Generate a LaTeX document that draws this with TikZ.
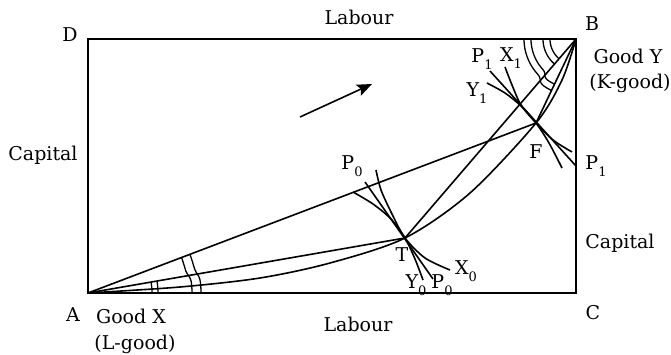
\documentclass[tikz,border=0pt]{standalone}
\usepackage{fontspec}
\setmainfont{DejaVu Serif}
\usetikzlibrary{arrows.meta}
\newcommand{\lsub}[1]{\raisebox{-0.35em}{\fontsize{13}{13}\selectfont #1}}
\begin{document}
\begin{tikzpicture}[x=1pt,y=-1pt,
  every node/.style={font=\fontsize{19}{21}\selectfont, inner sep=0pt},
  frame/.style={line width=2pt},
  ln/.style={line width=1.6pt},
  mk/.style={line width=1.3pt},
  declare function={
    rA(\t,\r)=\r+4/(1+exp(min(9,max(-9,(\t-9.8)/1.2))));
    rB(\t,\r)=\r+5/(1+exp(min(9,max(-9,(229-\t)/1.5))));
  }]
\useasboundingbox (0,0) rectangle (671,355);
\coordinate (A) at (88,293);
\coordinate (B) at (576,39);
\coordinate (C) at (576,293);
\coordinate (D) at (88,39);
\coordinate (T) at (405,238);
\coordinate (F) at (536,123);
% box
\draw[frame] (A) -- (C) -- (B) -- (D) -- cycle;
% rays
\draw[ln] (A) -- (F);
\draw[ln] (A) -- (T);
\draw[ln] (B) -- (T);
\draw[ln] (B) -- (F);
% contract curve
\draw[ln] plot[smooth] coordinates {(A) (180,287) (260,278) (330,263) (T) (470,193) (F) (562,80) (B)};
% isoquants at T
\draw[ln] plot[smooth] coordinates {(376,170) (381,190) (392,214) (T) (425,258) (450,270)};
\draw[ln] plot[smooth] coordinates {(353,192) (373,204) (391,219) (T) (415,259) (423,280)};
\coordinate (p0a) at (365,182);
\coordinate (p0b) at (433,279);
\draw[ln] (p0a) -- (p0b);
% isoquants at F
\draw[ln] plot[smooth] coordinates {(505,67) (512,85) (521,105) (F) (553,140) (572,152)};
\draw[ln] plot[smooth] coordinates {(487,83) (505,93) (521,106) (F) (549,143) (562,168)};
\coordinate (p1a) at (490,71);
\coordinate (p1b) at (576,166);
\draw[ln] (p1a) -- (p1b);
% arrow
\coordinate (a1) at (300,117);
\coordinate (a2) at (372,84);
\draw[ln,-{Stealth[length=15pt,width=12pt,inset=3pt]}] (a1) -- (a2);
% angle marks at A
\draw[mk] plot[domain=20.8:0,samples=40,smooth] ({88+rA(\x,100)*cos(\x)},{293-rA(\x,100)*sin(\x)});
\draw[mk] plot[domain=20.8:0,samples=40,smooth] ({88+rA(\x,109)*cos(\x)},{293-rA(\x,109)*sin(\x)});
\draw[mk] plot[domain=9.8:0,samples=10,smooth] ({88+64*cos(\x)},{293-64*sin(\x)});
\draw[mk] plot[domain=9.8:0,samples=10,smooth] ({88+70*cos(\x)},{293-70*sin(\x)});
% angle marks at B
\draw[mk] plot[domain=180:245,samples=40,smooth] ({576+rB(\x,45)*cos(\x)},{39-rB(\x,45)*sin(\x)});
\draw[mk] plot[domain=180:245,samples=40,smooth] ({576+rB(\x,52)*cos(\x)},{39-rB(\x,52)*sin(\x)});
\draw[mk] plot[domain=180:229.3,samples=20,smooth] ({576+26*cos(\x)},{39-26*sin(\x)});
\draw[mk] plot[domain=180:229.3,samples=20,smooth] ({576+33*cos(\x)},{39-33*sin(\x)});
% labels
\node (lD) at (70,35) {D};
\node (lB) at (592,24) {B};
\node (lA) at (73,315) {A};
\node (lC) at (593,313) {C};
\node (labT) at (359,17) {Labour};
\node (labB) at (358,324) {Labour};
\node (capL) at (43,155) {Capital};
\node (capR) at (620,243) {Capital};
\node (gy) at (628,56) {Good Y};
\node (kg) at (630,83) {(K-good)};
\node (gx) at (131,316) {Good X};
\node (lg) at (135,344) {(L-good)};
\node (lT) at (402,255) {T};
\node (lF) at (536,152) {F};
\node (lP0a) at (352,166) {P\lsub{0}};
\node (lY0) at (416,285) {Y\lsub{0}};
\node (lP0b) at (442,285) {P\lsub{0}};
\node (lX0) at (466,271) {X\lsub{0}};
\node (lP1a) at (482,59) {P\lsub{1}};
\node (lX1) at (511,58) {X\lsub{1}};
\node (lY1) at (477,93) {Y\lsub{1}};
\node (lP1b) at (596,166) {P\lsub{1}};
\end{tikzpicture}
\end{document}
